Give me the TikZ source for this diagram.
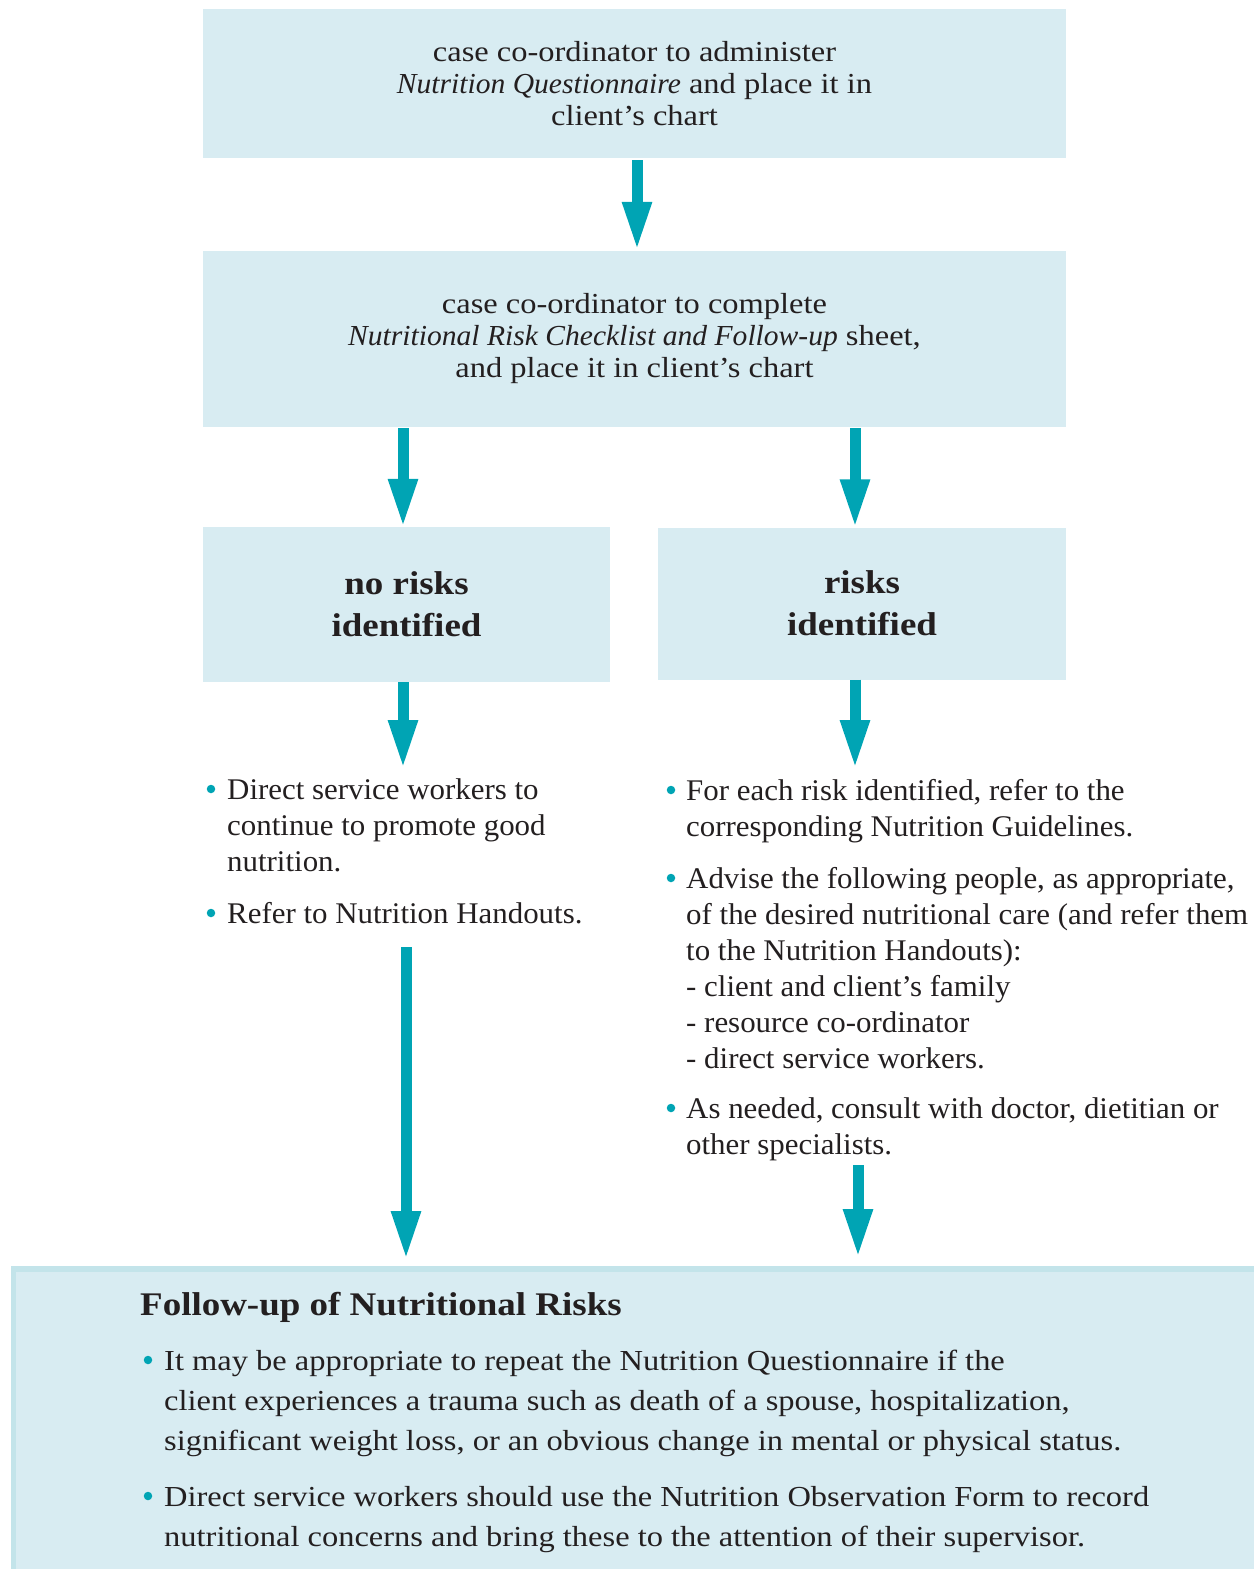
\documentclass[tikz,border=0pt]{standalone}
\usepackage{fontspec}
\setmainfont{Liberation Serif}
\newfontfamily\widefont[FakeStretch=1.12]{Liberation Serif}
\newfontfamily\boxit[FakeStretch=1.02]{Liberation Serif}
\newfontfamily\bodyfont[FakeStretch=1.03]{Liberation Serif}
\usetikzlibrary{arrows.meta,calc}
\definecolor{boxfill}{HTML}{D8ECF2}
\definecolor{boxedge}{HTML}{C3E4EA}
\definecolor{arrowc}{HTML}{00A4B4}
\definecolor{ink}{HTML}{231F20}
\begin{document}
\begin{tikzpicture}[x=1pt,y=-1pt,
  box/.style={fill=boxfill, inner sep=0pt, text=ink, align=center},
  boxtext/.style={font=\widefont\fontsize{29}{32}\selectfont},
  boldtext/.style={font=\widefont\bfseries\fontsize{33}{42}\selectfont},
  arr/.style={draw=arrowc, line width=11pt, -{Triangle[length=49pt,width=27pt]}},
  dot/.style={circle, fill=arrowc, inner sep=0pt, minimum size=8.5pt},
  body/.style={anchor=base west, inner sep=0pt, align=left, text=ink, font=\bodyfont\fontsize{30}{36}\selectfont},
  foot/.style={anchor=base west, inner sep=0pt, align=left, text=ink, font=\widefont\fontsize{29}{40}\selectfont},
  title/.style={anchor=base west, inner sep=0pt, text=ink, font=\widefont\bfseries\fontsize{33}{40}\selectfont}]
\useasboundingbox (0,0) rectangle (1254,1569);

% boxes
\node[box, boxtext, minimum width=863pt, minimum height=149pt] (b1) at (634.5,83.5)
  {case co-ordinator to administer\\{\boxit\itshape Nutrition Questionnaire} and place it in\\client’s chart};
\node[box, boxtext, minimum width=863pt, minimum height=176pt] (b2) at (634.5,339)
  {case co-ordinator to complete\\{\boxit\itshape Nutritional Risk Checklist and Follow-up} sheet,\\and place it in client’s chart};
\node[box, boldtext, minimum width=407pt, minimum height=155pt] (b3) at (406.5,604.5)
  {no risks\\identified};
\node[box, boldtext, minimum width=408pt, minimum height=152pt] (b4) at (862,603.5)
  {risks\\identified};

% bullet lists (base = baseline of the last line)
\node[body] (l1) at (227,871) {Direct service workers to\\continue to promote good\\nutrition.};
\node[body] (l2) at (227,923) {Refer to Nutrition Handouts.};
\node[body] (r1) at (686,836) {For each risk identified, refer to the\\corresponding Nutrition Guidelines.};
\node[body] (r2) at (686,1068) {Advise the following people, as appropriate,\\of the desired nutritional care (and refer them\\to the Nutrition Handouts):\\- client and client’s family\\- resource co-ordinator\\- direct service workers.};
\node[body] (r3) at (686,1154) {As needed, consult with doctor, dietitian or\\other specialists.};
\node[dot] (d1) at (211,789) {};
\node[dot] (d2) at (211,913) {};
\node[dot] (d3) at (671,790) {};
\node[dot] (d4) at (671,878) {};
\node[dot] (d5) at (671,1108) {};

% follow-up box
\node[fill=boxfill, inner sep=0pt, minimum width=1243pt, minimum height=303pt, anchor=north west] (fb) at (11,1266) {};
\fill[boxedge] (fb.north west) rectangle ([yshift=-6pt]fb.north east);
\fill[boxedge] (fb.north west) rectangle ([xshift=5pt]fb.south west);
\node[title] (ft) at (140,1315) {Follow-up of Nutritional Risks};
\node[foot] (f1) at (164,1450) {It may be appropriate to repeat the Nutrition Questionnaire if the\\client experiences a trauma such as death of a spouse, hospitalization,\\significant weight loss, or an obvious change in mental or physical status.};
\node[foot] (f2) at (164,1546) {Direct service workers should use the Nutrition Observation Form to record\\nutritional concerns and bring these to the attention of their supervisor.};
\node[dot] (d6) at (148,1360) {};
\node[dot] (d7) at (148,1496) {};

% arrow end points
\coordinate (e3) at (403,763);
\coordinate (e4) at (855,763);
\coordinate (sl) at (406,947);
\coordinate (sr) at (858,1165);

% connectors
\draw[arr, shorten <=2pt] ([xshift=2.5pt]b1.south) -- ([xshift=2.5pt]b1.south |- b2.north);
\draw[arr, shorten <=1pt, shorten >=-1pt] ([xshift=-3.5pt]b3.north |- b2.south) -- ([xshift=-3.5pt]b3.north);
\draw[arr, shorten <=1pt, shorten >=-1pt] ([xshift=-7pt]b4.north |- b2.south) -- ([xshift=-7pt]b4.north);
\draw[arr, shorten >=-6pt] ([xshift=-3.5pt]b3.south) -- (e3);
\draw[arr, shorten >=-6pt] ([xshift=-7pt]b4.south) -- (e4);
\draw[arr, shorten >=6pt] (sl) -- (sl |- fb.north);
\draw[arr, shorten >=8pt] (sr) -- (sr |- fb.north);
\end{tikzpicture}
\end{document}
